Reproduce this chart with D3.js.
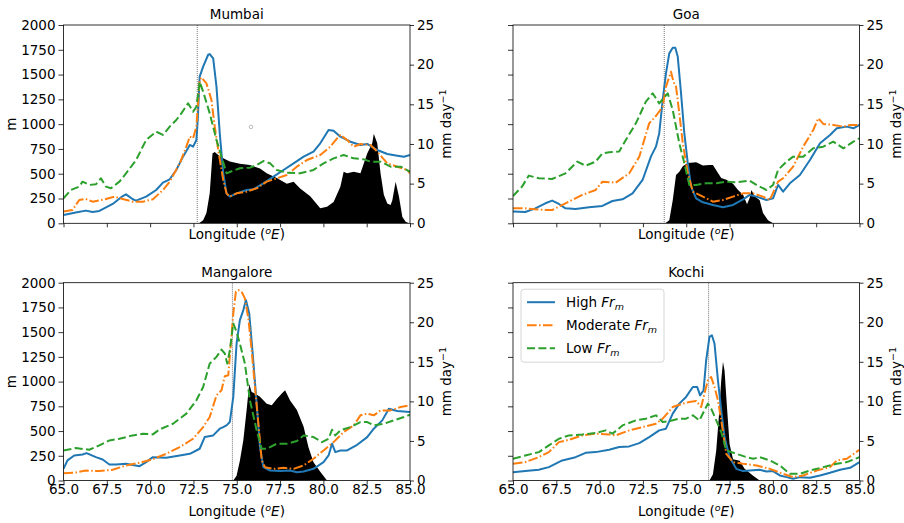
<!DOCTYPE html>
<html>
<head>
<meta charset="utf-8">
<script src="https://d3js.org/d3.v7.min.js"></script>
<style>
  body { margin: 0; background: #fff; }
  text { font-family: "DejaVu Sans", sans-serif; }
</style>
</head>
<body>
<script>
// ---- data: [longitude, metres] and [longitude, mm/day]
var lonTicks = [65.0, 67.5, 70.0, 72.5, 75.0, 77.5, 80.0, 82.5, 85.0];
var mTicks = [0, 250, 500, 750, 1000, 1250, 1500, 1750, 2000];
var rainTicks = [0, 5, 10, 15, 20, 25];
var seriesNames = ["High", "Moderate", "Low"];

var mumbaiHigh = [[65.0,84],[65.71,108],[66.29,128],[66.68,115],[67.07,125],[67.84,195],[68.42,275],[68.61,292],[69.0,242],[69.19,229],[69.77,269],[70.35,336],[70.74,410],[71.13,444],[71.51,538],[71.9,672],[72.29,790],[72.48,773],[72.67,840],[72.75,1050],[72.86,1480],[73.06,1580],[73.35,1700],[73.44,1707],[73.64,1663],[73.83,1378],[74.02,907],[74.22,504],[74.41,302],[74.6,269],[74.99,302],[75.57,336],[75.96,343],[76.54,403],[77.12,470],[77.7,538],[78.28,605],[78.86,672],[79.43,723],[79.82,807],[80.3,941],[80.59,934],[80.98,874],[81.56,823],[82.14,790],[82.53,800],[83.11,739],[83.69,699],[84.27,682],[84.65,672],[85.0,689]];
var mumbaiMod = [[65.0,118],[65.52,134],[65.91,235],[66.29,245],[66.68,218],[67.45,245],[67.94,269],[68.42,245],[69.0,218],[69.58,218],[70.16,242],[70.74,336],[71.13,420],[71.71,605],[72.09,773],[72.29,874],[72.48,857],[72.67,975],[72.86,1445],[72.96,1472],[73.25,1412],[73.54,1243],[73.73,975],[73.93,739],[74.22,437],[74.41,302],[74.6,269],[74.99,302],[75.57,319],[76.15,353],[76.73,420],[77.31,454],[77.89,487],[78.47,571],[79.05,638],[79.82,689],[80.4,773],[80.79,857],[80.98,891],[81.37,840],[81.75,773],[82.14,800],[82.72,790],[83.11,723],[83.69,605],[84.27,571],[84.85,538],[85.0,504]];
var mumbaiLow = [[65.0,252],[65.43,336],[65.91,370],[66.1,420],[66.49,387],[66.87,393],[67.16,454],[67.45,370],[67.74,353],[68.23,420],[68.61,504],[69.19,638],[69.77,840],[70.35,924],[70.74,891],[71.13,975],[71.51,1042],[71.8,1109],[72.19,1210],[72.48,1126],[72.67,1176],[72.86,1428],[73.06,1328],[73.44,1109],[73.83,840],[74.12,672],[74.41,504],[74.8,531],[75.18,555],[75.76,561],[76.15,588],[76.54,628],[76.92,605],[77.31,538],[77.89,511],[78.66,504],[79.43,538],[80.01,605],[80.59,655],[81.17,689],[81.75,655],[82.33,645],[82.72,622],[83.3,622],[83.88,571],[84.46,571],[85.0,521]];
var mumbaiRain = [[72.82,0],[73.06,0.4],[73.25,1.3],[73.44,3.8],[73.6,8.8],[73.73,9.0],[73.93,8.6],[74.22,8.2],[74.6,7.8],[75.18,7.5],[75.76,7.35],[76.34,6.9],[76.73,6.3],[77.31,5.7],[77.89,5.0],[78.28,5.25],[78.66,4.4],[79.24,3.4],[79.82,1.9],[80.21,2.1],[80.59,2.7],[80.98,4.6],[81.17,6.5],[81.37,6.3],[81.75,6.5],[82.14,6.3],[82.53,8.8],[82.82,10.1],[82.91,11.3],[83.11,10.1],[83.3,6.3],[83.49,3.6],[83.69,2.5],[83.88,2.3],[83.98,2.9],[84.17,5.25],[84.36,3.4],[84.56,0.8],[84.75,0.2],[84.94,0]];

var goaHigh = [[65.0,118],[65.71,114],[66.29,151],[66.87,202],[67.26,229],[67.65,195],[68.03,151],[68.61,145],[69.39,161],[70.16,175],[70.74,225],[71.32,242],[71.9,302],[72.48,437],[72.96,672],[73.25,773],[73.44,907],[73.64,1243],[73.83,1512],[74.02,1714],[74.22,1771],[74.37,1771],[74.51,1680],[74.7,1311],[74.89,907],[75.09,605],[75.28,370],[75.57,252],[75.96,212],[76.54,185],[77.12,161],[77.7,185],[78.28,242],[78.66,286],[79.05,269],[79.63,235],[80.01,252],[80.3,387],[80.59,319],[80.98,403],[81.56,487],[82.14,638],[82.72,807],[83.3,891],[83.69,958],[84.27,975],[84.65,958],[85.0,992]];
var goaMod = [[65.0,151],[65.71,151],[66.29,141],[66.87,134],[67.26,134],[68.03,202],[69.0,286],[69.77,336],[70.16,420],[70.93,410],[71.71,504],[72.29,672],[72.86,1008],[73.25,1082],[73.64,1176],[73.83,1378],[74.12,1529],[74.26,1428],[74.41,1378],[74.6,1109],[74.8,807],[75.09,504],[75.38,319],[75.96,269],[76.54,218],[77.12,235],[77.7,269],[78.28,302],[78.86,302],[79.43,269],[79.82,235],[80.3,420],[80.59,454],[81.17,571],[81.75,773],[82.33,941],[82.62,1059],[82.91,1002],[83.49,992],[84.07,975],[84.46,992],[85.0,992]];
var goaLow = [[65.0,276],[65.52,370],[65.91,481],[66.49,454],[67.26,447],[68.03,504],[68.71,622],[69.19,581],[69.77,622],[70.16,706],[70.55,716],[71.13,723],[71.51,840],[72.09,1008],[72.67,1227],[73.06,1311],[73.44,1210],[73.93,1311],[74.22,1143],[74.6,807],[74.89,605],[75.18,387],[75.57,387],[76.15,403],[76.73,403],[77.31,420],[77.89,413],[78.66,430],[79.05,387],[79.63,336],[80.01,387],[80.3,538],[80.79,622],[81.17,672],[81.75,672],[82.33,756],[82.91,773],[83.49,823],[84.07,756],[84.65,823],[85.0,857]];
var goaRain = [[73.79,0],[74.02,0.4],[74.22,2.9],[74.41,6.1],[74.6,6.5],[74.8,7.2],[75.09,7.6],[75.57,7.7],[75.96,7.3],[76.34,7.35],[76.54,7.35],[76.73,6.7],[77.02,5.7],[77.31,5.5],[77.7,5.0],[77.99,4.2],[78.28,3.6],[78.51,2.4],[78.66,3.2],[78.76,4.2],[78.95,3.4],[79.24,2.9],[79.43,1.3],[79.72,0.4],[80.01,0]];

var mangHigh = [[65.0,118],[65.23,203],[65.62,253],[66.1,263],[66.33,277],[66.87,236],[67.26,213],[67.65,162],[68.03,162],[68.61,169],[69.39,145],[69.77,186],[70.16,236],[70.93,230],[71.71,253],[72.29,270],[72.86,321],[73.15,439],[73.64,456],[74.02,524],[74.22,540],[74.41,557],[74.6,591],[74.8,845],[74.99,1385],[75.18,1621],[75.38,1723],[75.53,1824],[75.72,1689],[75.92,1284],[76.15,777],[76.34,338],[76.54,135],[76.92,101],[77.5,95],[78.08,101],[78.47,84],[78.86,91],[79.43,118],[80.01,186],[80.3,253],[80.5,372],[80.69,287],[80.98,304],[81.37,304],[81.95,361],[82.53,439],[82.91,524],[83.4,608],[83.78,726],[84.27,703],[85.0,692]];
var mangMod = [[65.0,74],[65.71,81],[66.29,101],[67.07,95],[67.84,108],[68.61,152],[69.39,179],[70.16,216],[70.93,270],[71.71,338],[72.48,422],[73.06,540],[73.44,642],[73.83,861],[74.12,912],[74.31,1054],[74.51,1064],[74.66,1385],[74.8,1689],[74.95,1909],[75.09,1925],[75.28,1909],[75.47,1841],[75.67,1638],[75.86,1317],[76.05,946],[76.25,574],[76.44,203],[76.63,135],[77.12,118],[77.7,128],[78.28,118],[78.86,152],[79.43,220],[80.01,304],[80.59,388],[81.17,490],[81.75,557],[82.14,659],[82.53,676],[82.91,659],[83.3,709],[83.88,709],[84.46,743],[85.0,760]];
var mangLow = [[65.0,304],[65.71,328],[66.49,311],[67.07,355],[67.65,405],[68.23,422],[69.0,456],[69.58,473],[70.16,466],[70.55,517],[71.32,574],[72.09,676],[72.67,811],[73.06,946],[73.44,1182],[73.83,1250],[74.12,1324],[74.31,1284],[74.45,1182],[74.6,1317],[74.8,1588],[74.99,1503],[75.18,1385],[75.47,1182],[75.76,811],[76.15,507],[76.44,321],[76.73,321],[77.31,372],[77.89,372],[78.47,399],[78.86,456],[79.43,439],[79.92,388],[80.3,422],[80.5,514],[80.69,456],[80.98,507],[81.56,540],[82.14,591],[82.53,591],[82.91,557],[83.49,574],[84.07,608],[84.65,642],[85.0,666]];
var mangRain = [[74.8,0],[74.99,0.6],[75.18,2.5],[75.38,5.1],[75.57,8.9],[75.72,12.2],[75.86,11.2],[76.05,11.0],[76.34,10.6],[76.73,9.7],[77.02,9.5],[77.31,10.3],[77.6,11.0],[77.79,11.4],[78.08,10.1],[78.47,8.9],[78.86,6.8],[79.14,4.2],[79.43,2.3],[79.82,1.1],[80.21,0]];

var kochiHigh = [[65.0,84],[65.71,95],[66.49,108],[67.07,135],[67.84,203],[68.61,236],[69.19,280],[69.77,287],[70.55,311],[71.13,338],[71.71,345],[72.29,378],[72.86,439],[73.44,507],[73.83,524],[74.22,676],[74.6,777],[74.99,845],[75.38,946],[75.63,946],[75.8,861],[76.0,912],[76.15,1216],[76.34,1453],[76.48,1469],[76.63,1385],[76.83,1013],[77.02,709],[77.21,439],[77.5,236],[77.89,118],[78.28,95],[78.66,101],[79.24,108],[79.63,91],[80.01,95],[80.4,51],[80.79,34],[81.17,17],[81.56,34],[82.14,27],[82.72,51],[83.3,78],[83.88,108],[84.46,128],[85.0,186]];
var kochiMod = [[65.0,169],[65.71,186],[66.49,236],[67.07,287],[67.65,388],[68.23,412],[69.0,456],[69.77,473],[70.55,466],[70.93,456],[71.71,507],[72.48,540],[73.25,574],[73.64,625],[74.22,743],[74.8,777],[75.18,794],[75.57,804],[75.86,743],[76.05,878],[76.25,1013],[76.44,1047],[76.63,946],[76.83,811],[77.02,608],[77.31,270],[77.7,186],[78.28,169],[79.05,152],[79.82,118],[80.59,68],[81.17,34],[81.75,51],[82.53,101],[83.3,135],[83.69,203],[84.27,220],[85.0,311]];
var kochiLow = [[65.0,220],[65.71,253],[66.49,287],[67.07,355],[67.65,422],[68.23,456],[69.0,466],[69.77,480],[70.35,507],[70.74,473],[71.32,557],[72.09,608],[72.67,625],[73.25,659],[73.64,591],[74.02,601],[74.6,625],[74.99,625],[75.38,659],[75.76,608],[76.05,709],[76.25,777],[76.44,726],[76.73,608],[77.02,490],[77.31,304],[77.89,270],[78.47,236],[78.86,220],[79.24,236],[79.82,203],[80.4,152],[80.98,68],[81.56,68],[82.14,101],[82.91,135],[83.69,169],[84.27,186],[85.0,236]];
var kochiRain = [[76.34,0],[76.54,0.8],[76.73,3.8],[76.88,8.0],[77.02,12.7],[77.12,15.0],[77.21,13.9],[77.35,9.3],[77.5,4.6],[77.7,2.7],[78.08,2.5],[78.37,1.5],[78.86,0.6],[79.24,0]];

// coast longitude (dotted line) per city
var coastLon = { Mumbai: 72.72, Goa: 73.73, Mangalore: 74.75, Kochi: 76.29 };
// stray marker visible in the Mumbai panel
var mumbaiMarker = [[75.82, 972]];

var W = 904, H = 523;
var FS = "13.5px";
var colors = ["#1f77b4", "#ff7f0e", "#2ca02c"];
var dashes = [null, "9.6,2.4,1.5,2.4", "8,3.4"];

var panels = [
  { name: "Mumbai",    x0: 63.5, x1: 410,   y0: 25,    y1: 223.3, lines: [mumbaiHigh, mumbaiMod, mumbaiLow], rain: mumbaiRain, xLab: false, yLab: true },
  { name: "Goa",       x0: 513,  x1: 859.5, y0: 25,    y1: 223.3, lines: [goaHigh, goaMod, goaLow],          rain: goaRain,    xLab: false, yLab: false },
  { name: "Mangalore", x0: 63.5, x1: 410,   y0: 282.7, y1: 480.5, lines: [mangHigh, mangMod, mangLow],       rain: mangRain,   xLab: true,  yLab: true },
  { name: "Kochi",     x0: 513,  x1: 859.5, y0: 282.7, y1: 480.5, lines: [kochiHigh, kochiMod, kochiLow],    rain: kochiRain,  xLab: true,  yLab: false, legend: true }
];

var svg = d3.select("body").append("svg")
  .attr("width", W).attr("height", H);

panels.forEach(function(p, i) {
  var x = d3.scaleLinear().domain([65, 85]).range([p.x0, p.x1]);
  var yL = d3.scaleLinear().domain([0, 2000]).range([p.y1, p.y0]);
  var yR = d3.scaleLinear().domain([0, 25]).range([p.y1, p.y0]);

  var g = svg.append("g");
  svg.append("clipPath").attr("id", "clip" + i)
    .append("rect")
    .attr("x", p.x0).attr("y", p.y0)
    .attr("width", p.x1 - p.x0).attr("height", p.y1 - p.y0);

  var plot = g.append("g").attr("clip-path", "url(#clip" + i + ")");

  // precipitation (right axis)
  var area = d3.area()
    .x(function(d) { return x(d[0]); })
    .y0(yR(0))
    .y1(function(d) { return yR(d[1]); });
  plot.append("path").datum(p.rain)
    .attr("d", area)
    .attr("fill", "#000");

  // coastline marker
  plot.append("line")
    .attr("x1", x(coastLon[p.name])).attr("x2", x(coastLon[p.name]))
    .attr("y1", p.y0).attr("y2", p.y1)
    .attr("stroke", "#666").attr("stroke-width", 0.9)
    .attr("stroke-dasharray", "1,1");

  // terrain-height lines (left axis)
  var line = d3.line()
    .x(function(d) { return x(d[0]); })
    .y(function(d) { return yL(d[1]); });
  p.lines.forEach(function(data, k) {
    plot.append("path").datum(data)
      .attr("d", line)
      .attr("fill", "none")
      .attr("stroke", colors[k])
      .attr("stroke-width", 2)
      .attr("stroke-linejoin", "round")
      .attr("stroke-dasharray", dashes[k]);
  });

  if (p.name === "Mumbai") {
    plot.selectAll("circle.stray").data(mumbaiMarker).enter()
      .append("circle")
      .attr("cx", function(d) { return x(d[0]); })
      .attr("cy", function(d) { return yL(d[1]); })
      .attr("r", 1.8)
      .attr("fill", "none")
      .attr("stroke", "#aaa")
      .attr("stroke-width", 0.8);
  }

  // axes
  var xAxis = d3.axisBottom(x).tickValues(lonTicks).tickSize(4).tickPadding(0)
    .tickFormat(p.xLab ? d3.format(".1f") : "");
  var yAxisL = d3.axisLeft(yL).tickValues(mTicks).tickSize(5).tickPadding(3)
    .tickFormat(p.yLab ? d3.format("d") : "");
  var yAxisR = d3.axisRight(yR).tickValues(rainTicks).tickSize(4).tickPadding(3)
    .tickFormat(d3.format("d"));

  var gx = g.append("g").attr("transform", "translate(0," + p.y1 + ")").call(xAxis);
  var gl = g.append("g").attr("transform", "translate(" + p.x0 + ",0)").call(yAxisL);
  var gr = g.append("g").attr("transform", "translate(" + p.x1 + ",0)").call(yAxisR);
  [gx, gl, gr].forEach(function(a) {
    a.select(".domain").remove();
    a.selectAll("line").attr("stroke", "#000").attr("stroke-width", 0.8);
    a.selectAll("text").attr("font-size", FS).attr("fill", "#000")
      .style("font-family", "DejaVu Sans, sans-serif");
  });

  // frame
  g.append("rect")
    .attr("x", p.x0).attr("y", p.y0)
    .attr("width", p.x1 - p.x0).attr("height", p.y1 - p.y0)
    .attr("fill", "none").attr("stroke", "#000").attr("stroke-width", 0.8);

  // title
  g.append("text")
    .attr("x", (p.x0 + p.x1) / 2).attr("y", p.y0 - 6)
    .attr("text-anchor", "middle")
    .attr("font-size", FS)
    .text(p.name);

  // x label
  var xl = g.append("text")
    .attr("x", (p.x0 + p.x1) / 2)
    .attr("y", p.y1 + (p.xLab ? 35 : 16))
    .attr("text-anchor", "middle")
    .attr("font-size", FS);
  xl.append("tspan").text("Longitude (");
  xl.append("tspan").attr("font-style", "italic").attr("font-size", "9.5px").attr("dy", -5).text("o");
  xl.append("tspan").attr("font-style", "italic").attr("dy", 5).text("E");
  xl.append("tspan").text(")");

  // left y label
  if (p.yLab) {
    g.append("text")
      .attr("transform", "translate(16," + ((p.y0 + p.y1) / 2) + ") rotate(-90)")
      .attr("text-anchor", "middle")
      .attr("font-size", FS)
      .text("m");
  }

  // right y label
  var rl = g.append("text")
    .attr("transform", "translate(" + (p.x1 + 41) + "," + ((p.y0 + p.y1) / 2) + ") rotate(-90)")
    .attr("text-anchor", "middle")
    .attr("font-size", FS);
  rl.append("tspan").text("mm day");
  rl.append("tspan").attr("font-size", "9.5px").attr("dy", -5).text("\u22121");

  // legend
  if (p.legend) {
    var lg = g.append("g");
    lg.append("rect")
      .attr("x", p.x0 + 8).attr("y", p.y0 + 6.5)
      .attr("width", 143).attr("height", 73)
      .attr("rx", 3)
      .attr("fill", "#fff").attr("fill-opacity", 0.8)
      .attr("stroke", "#ccc").attr("stroke-width", 0.8);
    seriesNames.forEach(function(nm, k) {
      var yy = p.y0 + 19.5 + k * 23;
      lg.append("line")
        .attr("x1", p.x0 + 14).attr("x2", p.x0 + 42)
        .attr("y1", yy).attr("y2", yy)
        .attr("stroke", colors[k]).attr("stroke-width", 2)
        .attr("stroke-dasharray", dashes[k]);
      var t = lg.append("text")
        .attr("x", p.x0 + 53).attr("y", yy + 4.5)
        .attr("font-size", FS);
      t.append("tspan").text(nm + " ");
      t.append("tspan").attr("font-style", "italic").text("Fr");
      t.append("tspan").attr("font-style", "italic").attr("font-size", "9.5px").attr("dy", 3).text("m");
    });
  }
});
</script>
</body>
</html>
